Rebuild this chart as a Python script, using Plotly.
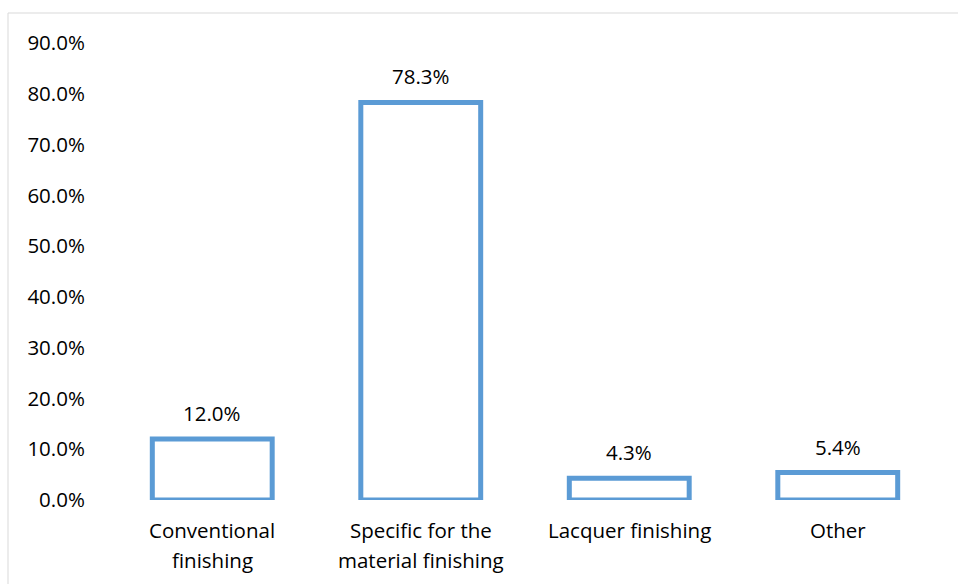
import plotly.graph_objects as go

categories = ["Conventional finishing", "Specific for the material finishing", "Lacquer finishing", "Other"]
category_lines = [["Conventional", "finishing"], ["Specific for the", "material finishing"], ["Lacquer finishing"], ["Other"]]
values = [0.120, 0.783, 0.043, 0.054]
value_labels = ["12.0%", "78.3%", "4.3%", "5.4%"]
tick_vals = [0, 0.1, 0.2, 0.3, 0.4, 0.5, 0.6, 0.7, 0.8, 0.9]

FONT = "Open Sans"
FS = 20.5
W, H = 958, 584
L, R, T, B = 108, 16, 43, 84

fig = go.Figure()
fig.add_trace(go.Bar(
    x=categories, y=values, width=0.575,
    marker=dict(color="white", line=dict(color="#5B9BD5", width=5)),
    hoverinfo="skip",
))
for c, v, t in zip(categories, values, value_labels):
    fig.add_annotation(x=c, y=v, text=t, showarrow=False, yanchor="bottom",
                       yshift=10, font=dict(family=FONT, size=FS, color="#000000"))

ph = H - T - B
pw = W - L - R
for c, lines in zip(categories, category_lines):
    for i, ln in enumerate(lines):
        ypix = 530 + 30 * i  # center of text line in pixels from top
        fig.add_annotation(x=c, xref="x", yref="paper", y=(H - B - ypix) / ph,
                           text=ln, showarrow=False, yanchor="middle",
                           font=dict(family=FONT, size=FS, color="#000000"))

fig.add_shape(type="rect", xref="paper", yref="paper",
              x0=(8 - L) / pw, x1=1 + (R + 20) / pw,
              y0=-(B + 20) / ph, y1=1 + (T - 13) / ph,
              line=dict(color="#D9D9D9", width=1), fillcolor="rgba(0,0,0,0)", layer="below")

fig.update_layout(
    width=W, height=H,
    margin=dict(l=L, r=R, t=T, b=B, pad=0),
    paper_bgcolor="white", plot_bgcolor="white",
    showlegend=False,
    font=dict(family=FONT, size=FS, color="#000000"),
    xaxis=dict(showgrid=False, showline=False, zeroline=False,
               showticklabels=False, ticks=""),
    yaxis=dict(range=[0, 0.9], tickvals=tick_vals, tickformat=".1%",
               showgrid=False, showline=False, zeroline=False,
               ticks="outside", ticklen=18, tickcolor="rgba(0,0,0,0)",
               tickfont=dict(family=FONT, size=FS)),
)

fig.write_html("out.html")
